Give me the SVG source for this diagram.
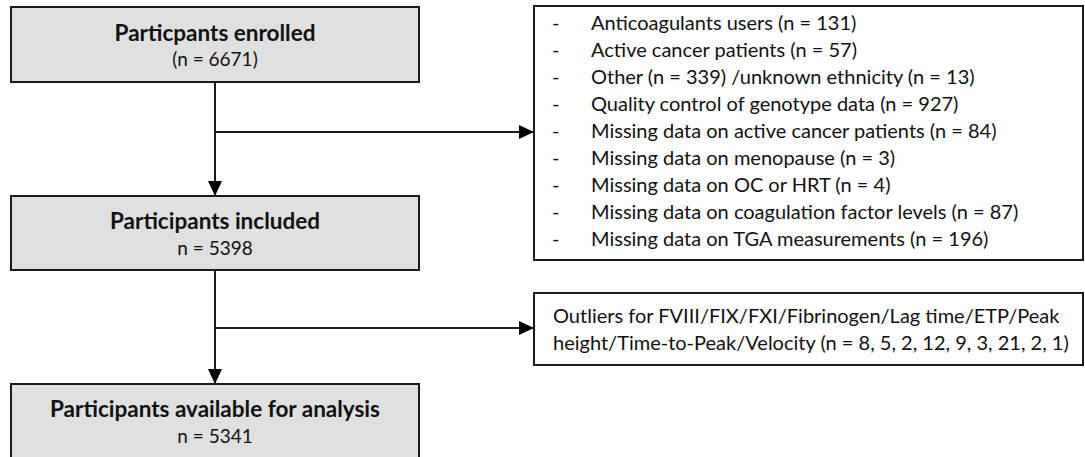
<svg xmlns="http://www.w3.org/2000/svg" width="1085" height="457" viewBox="0 0 1085 457">
<style>
.box{fill:#e0e0e0;stroke:#1a1a1a;stroke-width:2}
.wbox{fill:#ffffff;stroke:#1a1a1a;stroke-width:2}
.t{font-family:Lato,"Liberation Sans",sans-serif;fill:#111}
.h{font-size:22.5px;font-weight:bold;text-anchor:middle}
.s{font-size:19px;text-anchor:middle}
.l{font-size:20px}
.con{stroke:#1a1a1a;stroke-width:2;fill:none}
</style>
<defs>
<marker id="arr" markerWidth="15" markerHeight="14" refX="14" refY="7" orient="auto" markerUnits="userSpaceOnUse">
<path d="M0,0 L15,7 L0,14 Z" fill="#000"/>
</marker>
</defs>
<rect width="1085" height="457" fill="#fff"/>
<g id="connectors">
<line class="con" x1="215" y1="82" x2="215" y2="195" marker-end="url(#arr)"/>
<line class="con" x1="215" y1="132" x2="533" y2="132" marker-end="url(#arr)"/>
<line class="con" x1="215" y1="270" x2="215" y2="383" marker-end="url(#arr)"/>
<line class="con" x1="215" y1="328" x2="533" y2="328" marker-end="url(#arr)"/>
</g>
<g id="enrolled">
<rect class="box" x="11" y="7" width="408" height="75"/>
<text class="t h" x="215" y="41">Particpants enrolled</text>
<text class="t s" x="215" y="66">(n = 6671)</text>
</g>
<g id="excluded1">
<rect class="wbox" x="534" y="6" width="549" height="254"/>
<g class="t l">
<text x="552" y="30">-</text><text x="591" y="30">Anticoagulants users (n = 131)</text>
<text x="552" y="57">-</text><text x="591" y="57">Active cancer patients (n = 57)</text>
<text x="552" y="84">-</text><text x="591" y="84">Other (n = 339) /unknown ethnicity (n = 13)</text>
<text x="552" y="111">-</text><text x="591" y="111">Quality control of genotype data (n = 927)</text>
<text x="552" y="138">-</text><text x="591" y="138">Missing data on active cancer patients (n = 84)</text>
<text x="552" y="165">-</text><text x="591" y="165">Missing data on menopause (n = 3)</text>
<text x="552" y="192">-</text><text x="591" y="192">Missing data on OC or HRT (n = 4)</text>
<text x="552" y="219">-</text><text x="591" y="219">Missing data on coagulation factor levels (n = 87)</text>
<text x="552" y="246">-</text><text x="591" y="246">Missing data on TGA measurements (n = 196)</text>
</g>
</g>
<g id="included">
<rect class="box" x="11" y="196" width="408" height="74"/>
<text class="t h" x="215" y="229">Participants included</text>
<text class="t s" x="215" y="255">n = 5398</text>
</g>
<g id="excluded2">
<rect class="wbox" x="534" y="293" width="549" height="72"/>
<g class="t l">
<text x="553" y="323">Outliers for FVIII/FIX/FXI/Fibrinogen/Lag time/ETP/Peak</text>
<text x="553" y="350">height/Time-to-Peak/Velocity (n = 8, 5, 2, 12, 9, 3, 21, 2, 1)</text>
</g>
</g>
<g id="analysis">
<rect class="box" x="11" y="384" width="408" height="80"/>
<text class="t h" x="215" y="417">Participants available for analysis</text>
<text class="t s" x="215" y="443">n = 5341</text>
</g>
</svg>
